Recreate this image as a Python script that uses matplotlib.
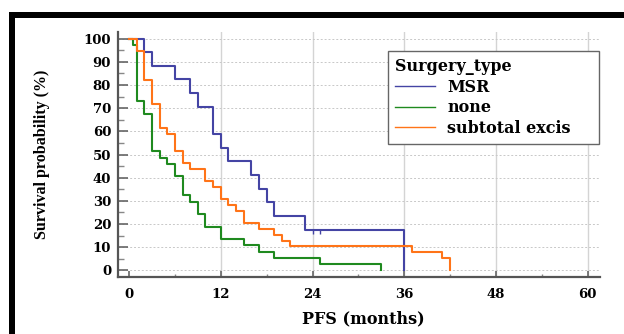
import matplotlib
matplotlib.use("Agg")
import matplotlib.pyplot as plt
from matplotlib.patches import Rectangle

# Kaplan-Meier step values (months, survival %)
msr_time = [0, 2, 3, 6, 8, 9, 11, 12, 13, 16, 17, 18, 19, 23, 36]
msr_surv = [100, 94.1, 88.2, 82.4, 76.5, 70.6, 58.8, 52.9, 47.1, 41.2, 35.3, 29.4, 23.5, 17.6, 0]
msr_censor_time = [24, 25]
msr_censor_surv = [17.6, 17.6]

none_time = [0, 0.5, 1, 2, 3, 4, 5, 6, 7, 8, 9, 10, 12, 15, 17, 19, 25, 33]
none_surv = [100, 97.3, 73.0, 67.6, 51.4, 48.6, 45.9, 40.5, 32.4, 29.7, 24.3, 18.9, 13.5, 10.8, 8.1, 5.4, 2.7, 0]

sub_time = [0, 1, 2, 3, 4, 5, 6, 7, 8, 10, 11, 12, 13, 14, 15, 17, 19, 20, 21, 37, 41, 42]
sub_surv = [100, 94.9, 82.1, 71.8, 61.5, 59.0, 51.3, 46.2, 43.6, 38.5, 35.9, 30.8, 28.2, 25.6, 20.5,
            17.9, 15.4, 12.8, 10.3, 7.7, 5.1, 0]

x_ticks = [0, 12, 24, 36, 48, 60]
y_ticks = [0, 10, 20, 30, 40, 50, 60, 70, 80, 90, 100]

c_msr = '#4444a4'
c_none = '#1f8a1f'
c_sub = '#ff7418'

plt.rcParams['font.family'] = ['DejaVu Serif']
plt.rcParams['font.weight'] = 'bold'

fig = plt.figure(figsize=(6.24, 3.34), dpi=100)
ax = fig.add_axes([118 / 624, 1 - 277 / 334, 482 / 624, 245 / 334])

ax.step(msr_time, msr_surv, where='post', color=c_msr, lw=1.5, label='MSR')
ax.step(none_time, none_surv, where='post', color=c_none, lw=1.5, label='none')
ax.step(sub_time, sub_surv, where='post', color=c_sub, lw=1.5, label='subtotal excis')
ax.vlines(msr_censor_time, [s - 1.8 for s in msr_censor_surv], msr_censor_surv, color=c_msr, lw=1.0)

ax.set_xlim(-1.44, 61.6)
ax.set_ylim(-2.9, 102.9)
ax.set_xticks(x_ticks)
ax.set_xticks([6, 18, 30, 42, 54], minor=True)
ax.set_yticks(y_ticks)
ax.set_yticks([5, 15, 25, 35, 45, 55, 65, 75, 85, 95], minor=True)

for side in ['top', 'right']:
    ax.spines[side].set_visible(False)
for side in ['left', 'bottom']:
    ax.spines[side].set_color('#555555')
    ax.spines[side].set_linewidth(1.6)

ax.tick_params(axis='y', which='major', direction='in', length=7, width=1.2, color='#666666',
               labelsize=9.5, pad=5)
ax.tick_params(axis='y', which='minor', direction='in', length=4, width=1.0, color='#888888')
ax.tick_params(axis='x', which='major', direction='in', length=4, width=1.2, color='#666666',
               labelsize=9.5, pad=8)
ax.tick_params(axis='x', which='minor', direction='in', length=2.5, width=1.0, color='#888888')

ax.yaxis.grid(True, which='major', linestyle=(0, (2, 2)), color='#c8c8c8', lw=0.7)
ax.xaxis.grid(True, which='major', linestyle='-', color='#d4d4d4', lw=1.0)
ax.xaxis.get_gridlines()[0].set_visible(False)
ax.set_axisbelow(True)

ax.set_xlabel('PFS (months)', fontsize=11.5, fontweight='bold')
ax.xaxis.set_label_coords(0.508, -0.135)
ax.set_ylabel('Survival probability (%)', fontsize=11.5, fontweight='bold',
              family='Liberation Serif')
ax.yaxis.set_label_coords(-0.141, 0.5)

leg = ax.legend(title='Surgery_type', loc='upper left',
                bbox_to_anchor=(388 / 624, 1 - 140 / 334, 211 / 624, 89 / 334),
                bbox_transform=fig.transFigure, mode='expand', borderaxespad=0, fancybox=False,
                framealpha=1, edgecolor='#666666', prop={'size': 11.5, 'weight': 'bold'},
                handlelength=2.5, handletextpad=0.75, labelspacing=0.22, borderpad=0.45,
                alignment='left')
leg.get_title().set_fontsize(11.5)
leg.get_title().set_fontweight('bold')
leg.get_frame().set_linewidth(1.0)
for line in leg.get_lines():
    line.set_linewidth(1.0)

# thick black frame along the top and left edges
fig.add_artist(Rectangle((9 / 624, 1 - 18 / 334), 615 / 624, 6 / 334, transform=fig.transFigure,
                         color='black', lw=0))
fig.add_artist(Rectangle((9 / 624, 0), 6 / 624, 322 / 334, transform=fig.transFigure,
                         color='black', lw=0))

fig.savefig('out.png', dpi=100)
